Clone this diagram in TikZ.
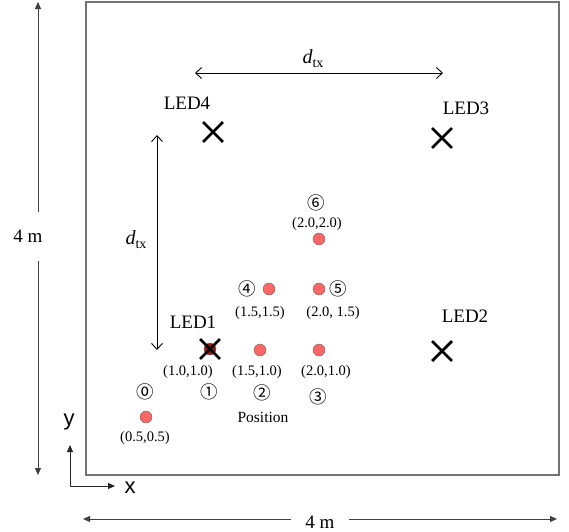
\documentclass[tikz,border=0pt]{standalone}
\usepackage{fontspec}
\setmainfont{Liberation Serif}
\newfontfamily\axisfont{Liberation Sans}
\newfontfamily\circfont{Noto Sans CJK SC}
\usetikzlibrary{arrows.meta,shapes.misc}
\newcommand{\dtx}{\textit{d}\raisebox{-0.45ex}{\fontsize{14}{14}\selectfont tx}}
\begin{document}
\begin{tikzpicture}[x=1pt,y=-1pt,
  every node/.style={inner sep=0pt},
  room/.style={draw=black!55, line width=1.4pt},
  dimline/.style={draw=black!75, line width=0.9pt},
  dimtip/.style={-{Triangle[length=7pt,width=6pt]}},
  axisline/.style={draw=black!85, line width=0.9pt, -{Triangle[length=7pt,width=6pt]}},
  dtxline/.style={draw=black, line width=0.9pt, {Straight Barb[length=6pt,width=11pt,line width=0.9pt]}-{Straight Barb[length=6pt,width=11pt,line width=0.9pt]}},
  ledmark/.style={cross out, draw=black, line width=2.8pt, minimum size=17pt},
  ledlabel/.style={font=\fontsize{19}{19}\selectfont},
  dot/.style={circle, draw=black!60, line width=0.4pt, fill=red!60, minimum size=12pt},
  coordlabel/.style={font=\fontsize{14.5}{14.5}\selectfont},
  circnum/.style={font=\circfont\fontsize{17.5}{17.5}\selectfont},
  dimlabel/.style={font=\fontsize{19}{19}\selectfont},
  dtxlabel/.style={font=\fontsize{20}{20}\selectfont}
]
\useasboundingbox (0,0) rectangle (569,531);
% room
\draw[room] (86,2) rectangle (559,475);
% left 4 m dimension
\node[dimlabel] (vlbl) at (28,236) {4 m};
\coordinate (vtop) at (38,2);
\coordinate (vgapT) at (38,212);
\coordinate (vgapB) at (38,261);
\coordinate (vbot) at (38,475);
\draw[dimline, dimtip] (vgapT) -- (vtop);
\draw[dimline, dimtip] (vgapB) -- (vbot);
% bottom 4 m dimension
\node[dimlabel] (hlbl) at (320,522) {4 m};
\coordinate (hleft) at (83,519);
\coordinate (hgapL) at (291,519);
\coordinate (hgapR) at (349,519);
\coordinate (hright) at (557,519);
\draw[dimline, dimtip] (hgapL) -- (hleft);
\draw[dimline, dimtip] (hgapR) -- (hright);
% axes
\coordinate (origin) at (70,486);
\coordinate (yend) at (70,445);
\coordinate (xend) at (115,486);
\draw[axisline] (origin) -- (yend);
\draw[axisline] (origin) -- (xend);
\node[font=\axisfont\fontsize{22}{22}\selectfont] (ylbl) at (69,422) {y};
\node[font=\axisfont\fontsize{22}{22}\selectfont] (xlbl) at (130,488) {x};
% d_tx arrows
\coordinate (dhL) at (195,73);
\coordinate (dhR) at (443,73);
\draw[dtxline] (dhL) -- (dhR);
\node[dtxlabel] (dhlbl) at (313,59) {\dtx};
\coordinate (dvT) at (157,135);
\coordinate (dvB) at (157,350);
\draw[dtxline] (dvT) -- (dvB);
\node[dtxlabel] (dvlbl) at (136,240) {\dtx};
% dots
\node[dot] (p0) at (146,417) {};
\node[dot, fill=red!55!black!90] (p1) at (210,349) {};
\node[dot] (p2) at (260,350) {};
\node[dot] (p3) at (319,350) {};
\node[dot] (p4) at (269,289) {};
\node[dot] (p5) at (319,289) {};
\node[dot] (p6) at (319,239) {};
% LEDs
\node[ledmark] (led1) at (210,349) {};
\node[ledmark] (led2) at (442,351) {};
\node[ledmark] (led3) at (442,138) {};
\node[ledmark] (led4) at (213,132) {};
\node[ledlabel] (led1lbl) at (193,322) {LED1};
\node[ledlabel] (led2lbl) at (465,316) {LED2};
\node[ledlabel] (led3lbl) at (466,108) {LED3};
\node[ledlabel] (led4lbl) at (187,103) {LED4};
% coordinate labels
\node[coordlabel] (c6) at (317,224) {(2.0,2.0)};
\node[coordlabel] (c4) at (260,313) {(1.5,1.5)};
\node[coordlabel] (c5) at (333,313) {(2.0, 1.5)};
\node[coordlabel] (c1) at (188,372) {(1.0,1.0)};
\node[coordlabel] (c2) at (257,372) {(1.5,1.0)};
\node[coordlabel] (c3) at (326,372) {(2.0,1.0)};
\node[coordlabel] (c0) at (145,438) {(0.5,0.5)};
% circled numbers
\node[circnum] (n0) at (145,392) {⓪};
\node[circnum] (n1) at (209,392) {①};
\node[circnum] (n2) at (262,393) {②};
\node[circnum] (n3) at (318,397) {③};
\node[circnum] (n4) at (247,289) {④};
\node[circnum] (n5) at (338,289) {⑤};
\node[circnum] (n6) at (316,203) {⑥};
\node[font=\fontsize{15.5}{15.5}\selectfont] (poslbl) at (263,417) {Position};
\end{tikzpicture}
\end{document}
